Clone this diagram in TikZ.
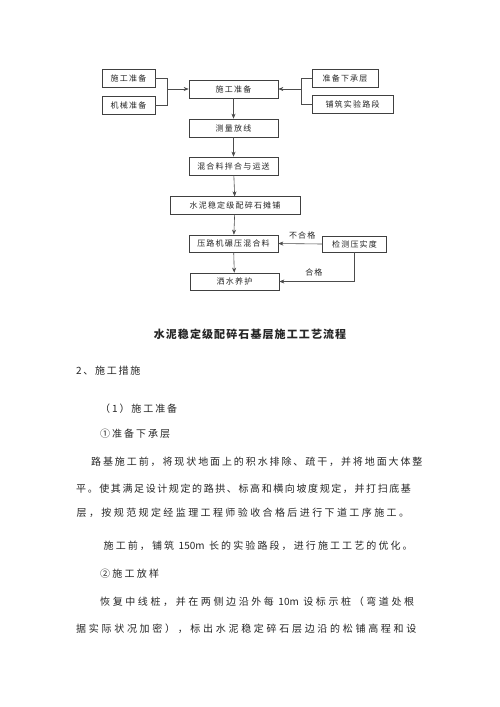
\documentclass[tikz,border=0pt]{standalone}
\usepackage{fontspec}
\usepackage{tikz}
\usetikzlibrary{arrows.meta}
\newfontfamily\cjk{Noto Sans CJK SC}
\newfontfamily\cjkbox[LetterSpace=15]{Noto Sans CJK SC}
\newfontfamily\cjktitle[LetterSpace=10]{Noto Sans CJK SC}
\newcommand{\latin}[1]{\hspace{4.5pt}{\cjk #1}\hspace{4.5pt}}
\tikzset{
    every node/.style={font=\cjkbox\fontsize{8}{10}\selectfont, text=black!85},
    box/.style={draw=black!75, line width=0.6pt, inner sep=0pt, minimum height=18pt},
    flow/.style={draw=black!70, line width=0.6pt, -{Stealth[length=5pt,width=4pt,inset=1.5pt]}},
    link/.style={draw=black!70, line width=0.6pt},
    para/.style={anchor=west, inner sep=0pt,
        font=\cjk\fontsize{10}{12}\selectfont\addfontfeature{LetterSpace=#1}},
    para/.default=12
}
\begin{document}
\begin{tikzpicture}[x=1pt,y=-1pt]
    \fill[white] (0,0) rectangle (500,707);
    \useasboundingbox (0,0) rectangle (500,707);

    % Flow chart boxes
    \node[box, minimum width=53pt] (prepL) at (128.5,78) {施工准备};
    \node[box, minimum width=53pt] (mach) at (128.5,105) {机械准备};
    \node[box, minimum width=89pt] (prep) at (233.5,89) {施工准备};
    \node[box, minimum width=66pt] (base) at (345,78) {准备下承层};
    \node[box, minimum width=81pt] (trial) at (352.5,104) {铺筑实验路段};
    \node[box, minimum width=89pt] (survey) at (233.5,128) {测量放线};
    \node[box, minimum width=89pt] (mix) at (233.5,166) {混合料拌合与运送};
    \node[box, minimum width=130pt, minimum height=17.5pt] (pave) at (235,205.5) {\raisebox{-4pt}{水泥稳定级配碎石摊铺}};
    \node[box, minimum width=89pt, minimum height=17pt] (roll) at (233.5,243.5) {压路机碾压混合料};
    \node[box, minimum width=89pt, minimum height=17pt] (cure) at (234.5,281.5) {洒水养护};
    \node[box, minimum width=64pt, minimum height=16pt] (test) at (354.5,244) {检测压实度};

    % Joints of the side branches
    \coordinate (jl) at (167,89);
    \coordinate (jr) at (301,89);

    % Connectors
    \draw[link] (prepL.east) -- (prepL.east -| jl) -- (mach.east -| jl) -- (mach.east);
    \draw[flow] (jl) -- (prep.west);
    \draw[link] (base.west) -- (base.west -| jr) -- (trial.west -| jr) -- (trial.west);
    \draw[flow] (jr) -- (prep.east);
    \draw[flow] (prep) -- (survey);
    \draw[flow] (survey) -- (mix);
    \draw[flow] (mix) -- (pave);
    \draw[flow] (pave) -- (roll);
    \draw[flow] (roll) -- (cure);
    \draw[flow] (test.west) -- node[above=1pt, xshift=2pt] {不合格} (roll.east);
    \draw[flow] (test.south) |- node[pos=0.77, above=1.5pt] {合格} (cure.east);

    % Caption
    \node[inner sep=0pt, font=\cjktitle\bfseries\fontsize{11}{13}\selectfont] (title) at (250,334) {水泥稳定级配碎石基层施工工艺流程};

    % Body text
    \node[para=17] (sec) at (76,371) {2、施工措施};
    \node[para=19] (sub) at (100,408.7) {（1）施工准备};
    \node[para=20] (item1) at (100,434) {①准备下承层};
    \node[para=19] (p1a) at (91,461.7) {路基施工前，将现状地面上的积水排除、疏干，并将地面大体整};
    \node[para=16] (p1b) at (76,489) {平。使其满足设计规定的路拱、标高和横向坡度规定，并打扫底基};
    \node[para=24] (p1c) at (76.5,512.7) {层，按规范规定经监理工程师验收合格后进行下道工序施工。};
    \node[para=21] (p2) at (103.5,546) {施工前，铺筑\latin{150m}长的实验路段，进行施工工艺的优化。};
    \node[para=22] (item2) at (100,574) {②施工放样};
    \node[para=26] (p3a) at (100,601.7) {恢复中线桩，并在两侧边沿外每\latin{10m}设标示桩（弯道处根};
    \node[para=27] (p3b) at (76,628.3) {据实际状况加密），标出水泥稳定碎石层边沿的松铺高程和设};
\end{tikzpicture}
\end{document}
